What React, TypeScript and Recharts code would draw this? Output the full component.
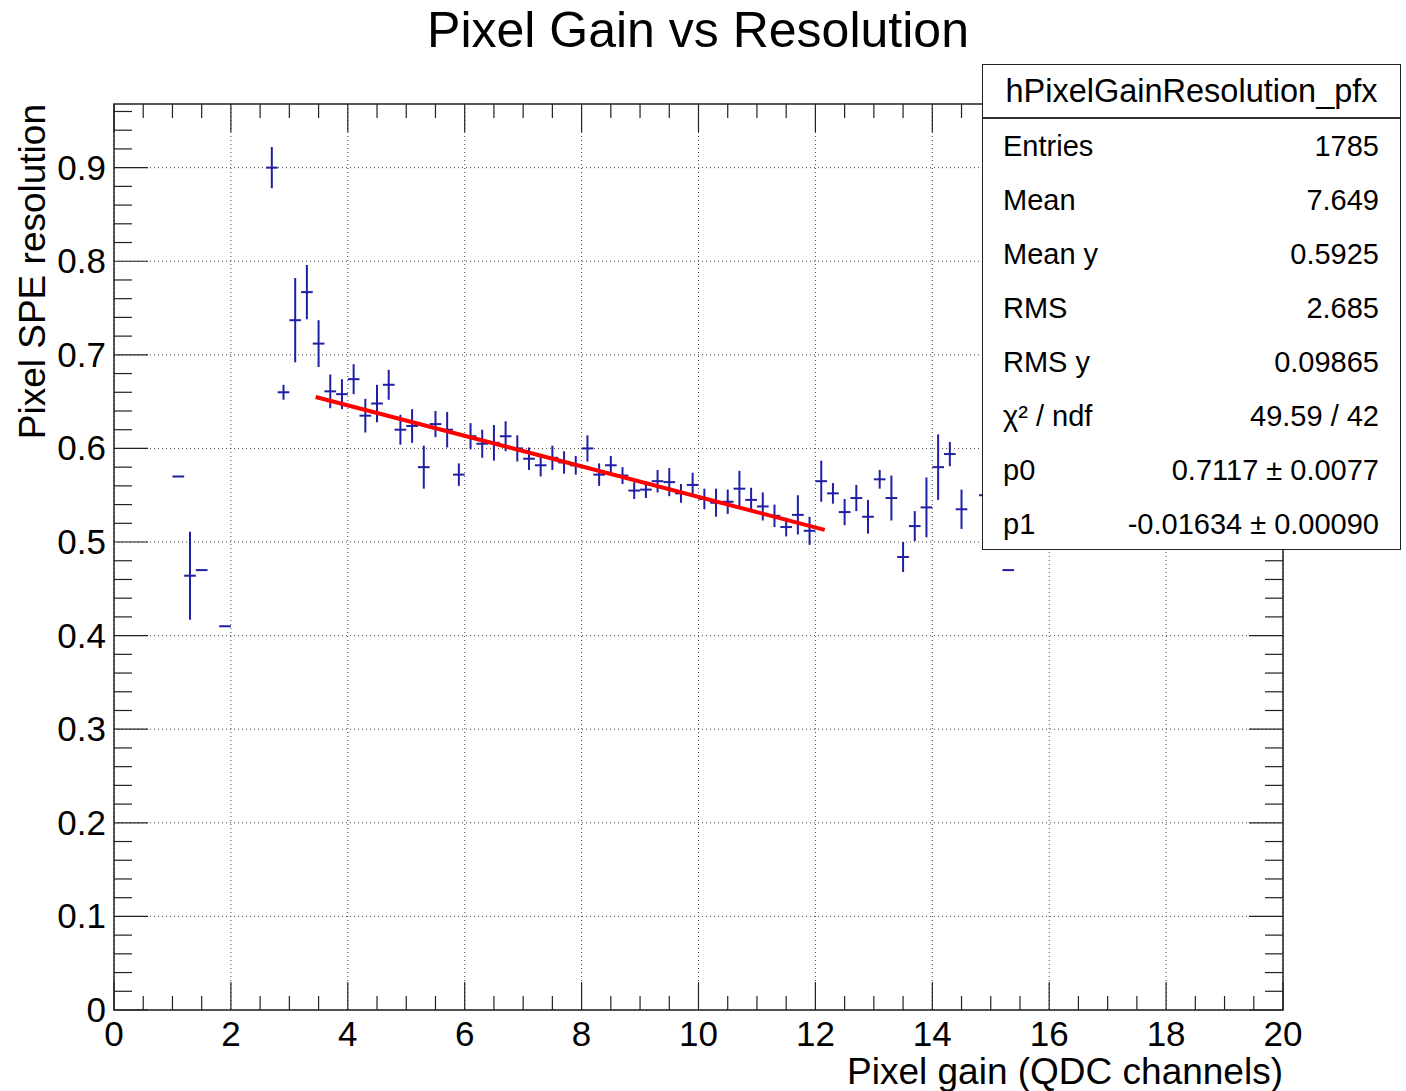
import React from 'react';
import {
  ComposedChart,
  Scatter,
  Line,
  XAxis,
  YAxis,
  CartesianGrid,
  ErrorBar,
  ReferenceArea,
  Label,
} from 'recharts';

// profile bins (bin centre, mean, error on mean)
const binX = [
  1.1, 1.3, 1.5, 1.9, 2.7, 2.9, 3.1, 3.3, 3.5, 3.7, 3.9, 4.1, 4.3, 4.5, 4.7, 4.9,
  5.1, 5.3, 5.5, 5.7, 5.9, 6.1, 6.3, 6.5, 6.7, 6.9, 7.1, 7.3, 7.5, 7.7, 7.9, 8.1,
  8.3, 8.5, 8.7, 8.9, 9.1, 9.3, 9.5, 9.7, 9.9, 10.1, 10.3, 10.5, 10.7, 10.9, 11.1,
  11.3, 11.5, 11.7, 11.9, 12.1, 12.3, 12.5, 12.7, 12.9, 13.1, 13.3, 13.5, 13.7,
  13.9, 14.1, 14.3, 14.5, 14.9, 15.3,
];
const binMean = [
  0.57, 0.464, 0.47, 0.41, 0.9, 0.66, 0.737, 0.767, 0.712, 0.661, 0.658, 0.674,
  0.635, 0.648, 0.668, 0.62, 0.624, 0.58, 0.626, 0.62, 0.572, 0.613, 0.605, 0.606,
  0.613, 0.6, 0.589, 0.582, 0.59, 0.585, 0.582, 0.6, 0.572, 0.582, 0.571, 0.555,
  0.556, 0.565, 0.564, 0.552, 0.561, 0.546, 0.542, 0.543, 0.557, 0.545, 0.538,
  0.528, 0.516, 0.529, 0.512, 0.565, 0.552, 0.532, 0.547, 0.527, 0.567, 0.547,
  0.484, 0.517, 0.537, 0.58, 0.594, 0.535, 0.55, 0.47,
];
const binErr = [
  0, 0.047, 0, 0, 0.022, 0.008, 0.045, 0.029, 0.025, 0.018, 0.016, 0.016, 0.018,
  0.02, 0.016, 0.016, 0.018, 0.023, 0.014, 0.019, 0.012, 0.014, 0.015, 0.019,
  0.016, 0.014, 0.012, 0.012, 0.013, 0.012, 0.01, 0.014, 0.012, 0.01, 0.009,
  0.009, 0.009, 0.012, 0.015, 0.01, 0.013, 0.011, 0.015, 0.013, 0.019, 0.013,
  0.015, 0.012, 0.01, 0.021, 0.015, 0.022, 0.011, 0.014, 0.014, 0.018, 0.01,
  0.024, 0.016, 0.016, 0.032, 0.035, 0.013, 0.021, 0.015, 0,
];
const binHalfWidth = 0.1;

// pol1 fit drawn over its range
const fitX = [3.45, 12.16];
const fitY = [0.655, 0.513];

const xMajorTicks = [0, 2, 4, 6, 8, 10, 12, 14, 16, 18, 20];
const yMajorTicks = [0, 0.1, 0.2, 0.3, 0.4, 0.5, 0.6, 0.7, 0.8, 0.9];
const xMinorTicks = Array.from({ length: 41 }, (_, i) => i / 2);
const yMinorTicks = Array.from({ length: 49 }, (_, i) => Math.round(i * 2) / 100);

const statLabels = ['Entries', 'Mean', 'Mean y', 'RMS', 'RMS y', 'χ² / ndf', 'p0', 'p1'];
const statValues = [
  '1785', '7.649', '0.5925', '2.685', '0.09865', '49.59 / 42',
  '0.7117 ± 0.0077', '-0.01634 ± 0.00090',
];

const points = binX.map((x, i) => ({
  x,
  y: binMean[i],
  err: binErr[i],
  xerr: binHalfWidth,
}));
const fitData = fitX.map((x, i) => ({ x, y: fitY[i] }));

const FONT = '"Liberation Sans", Arial, Helvetica, sans-serif';
const W = 1406;
const H = 1091;
const PLOT_L = 114;
const PLOT_T = 104;
const PLOT_R = 1283;
const PLOT_B = 1010;
const PLOT_W = PLOT_R - PLOT_L;
const PLOT_H = PLOT_B - PLOT_T;
const Y_MAX = 0.968;
const BLUE = '#1f1fa6';

const isMajor = (v: number, list: number[]) => list.some((m) => Math.abs(m - v) < 1e-6);

function XTick(props: any) {
  const { x, y, payload } = props;
  const v = payload.value;
  const major = isMajor(v, xMajorTicks);
  const len = major ? 28 : 14;
  return (
    <g>
      <line x1={x} x2={x} y1={y} y2={y - len} stroke="#222" strokeWidth={1.2} />
      <line x1={x} x2={x} y1={y - PLOT_H} y2={y - PLOT_H + len} stroke="#222" strokeWidth={1.2} />
      {major && (
        <text x={x} y={y + 36} textAnchor="middle" fontSize={35} fontFamily={FONT} fill="#000">
          {v}
        </text>
      )}
    </g>
  );
}

function YTick(props: any) {
  const { x, y, payload } = props;
  const v = payload.value;
  const major = isMajor(v, yMajorTicks);
  const len = major ? 34 : 18;
  return (
    <g>
      <line x1={x} x2={x + len} y1={y} y2={y} stroke="#222" strokeWidth={1.2} />
      <line x1={x + PLOT_W} x2={x + PLOT_W - len} y1={y} y2={y} stroke="#222" strokeWidth={1.2} />
      {major && (
        <text x={x - 8} y={y + 12} textAnchor="end" fontSize={35} fontFamily={FONT} fill="#000">
          {v}
        </text>
      )}
    </g>
  );
}

function StatsBox() {
  const rowH = 54;
  return (
    <div
      style={{
        position: 'absolute',
        left: 982,
        top: 64,
        width: 419,
        height: 486,
        boxSizing: 'border-box',
        border: '1.5px solid #222',
        background: '#fff',
        fontFamily: FONT,
        color: '#000',
      }}
    >
      <div
        style={{
          position: 'absolute',
          left: 0,
          top: 0,
          width: '100%',
          height: rowH,
          borderBottom: '2px solid #333',
          boxSizing: 'border-box',
          display: 'flex',
          alignItems: 'center',
          justifyContent: 'center',
          fontSize: 32.5,
        }}
      >
        hPixelGainResolution_pfx
      </div>
      {statLabels.map((label, i) => (
        <div
          key={label}
          style={{
            position: 'absolute',
            left: 20,
            right: 21,
            top: rowH * (i + 1),
            height: rowH,
            display: 'flex',
            alignItems: 'center',
            justifyContent: 'space-between',
            fontSize: 29,
          }}
        >
          <span>{label}</span>
          <span>{statValues[i]}</span>
        </div>
      ))}
    </div>
  );
}

export default function App() {
  return (
    <div style={{ position: 'absolute', left: 0, top: 0, width: W, height: H, background: '#fff' }}>
      <div
        style={{
          position: 'absolute',
          left: 0,
          top: 2,
          width: 1396,
          textAlign: 'center',
          fontFamily: FONT,
          fontSize: 50,
          color: '#000',
          lineHeight: '56px',
        }}
      >
        Pixel Gain vs Resolution
      </div>
      <ComposedChart
        width={W}
        height={H}
        margin={{ top: PLOT_T, right: W - PLOT_R, bottom: 0, left: 0 }}
        style={{ position: 'absolute', left: 0, top: 0 }}
      >
        <CartesianGrid
          stroke="#444"
          strokeDasharray="1 3"
          verticalValues={xMajorTicks}
          horizontalValues={yMajorTicks}
        />
        <XAxis
          dataKey="x"
          type="number"
          domain={[0, 20]}
          ticks={xMinorTicks}
          interval={0}
          height={H - PLOT_B}
          tickSize={0}
          tickMargin={0}
          tickLine={false}
          axisLine={false}
          tick={<XTick />}
          allowDataOverflow
        >
          <Label
            content={() => (
              <text x={PLOT_R} y={1084} textAnchor="end" fontSize={37} fontFamily={FONT} fill="#000">
                Pixel gain (QDC channels)
              </text>
            )}
          />
        </XAxis>
        <YAxis
          dataKey="y"
          type="number"
          domain={[0, Y_MAX]}
          ticks={yMinorTicks}
          interval={0}
          width={PLOT_L}
          tickSize={0}
          tickMargin={0}
          tickLine={false}
          axisLine={false}
          tick={<YTick />}
          allowDataOverflow
        >
          <Label
            content={() => (
              <text
                x={0}
                y={0}
                transform={`translate(45, ${PLOT_T}) rotate(-90)`}
                textAnchor="end"
                fontSize={37}
                fontFamily={FONT}
                fill="#000"
              >
                Pixel SPE resolution
              </text>
            )}
          />
        </YAxis>
        <ReferenceArea
          x1={0}
          x2={20}
          y1={0}
          y2={Y_MAX}
          fill="none"
          fillOpacity={0}
          stroke="#222"
          strokeWidth={1.5}
        />
        <Scatter data={points} fill={BLUE} shape={() => <g />} isAnimationActive={false}>
          <ErrorBar dataKey="err" direction="y" width={0} stroke={BLUE} strokeWidth={2} />
          <ErrorBar dataKey="xerr" direction="x" width={0} stroke={BLUE} strokeWidth={2} />
        </Scatter>
        <Line
          data={fitData}
          dataKey="y"
          type="linear"
          stroke="#ff0000"
          strokeWidth={4}
          dot={false}
          activeDot={false}
          isAnimationActive={false}
        />
      </ComposedChart>
      <StatsBox />
    </div>
  );
}
